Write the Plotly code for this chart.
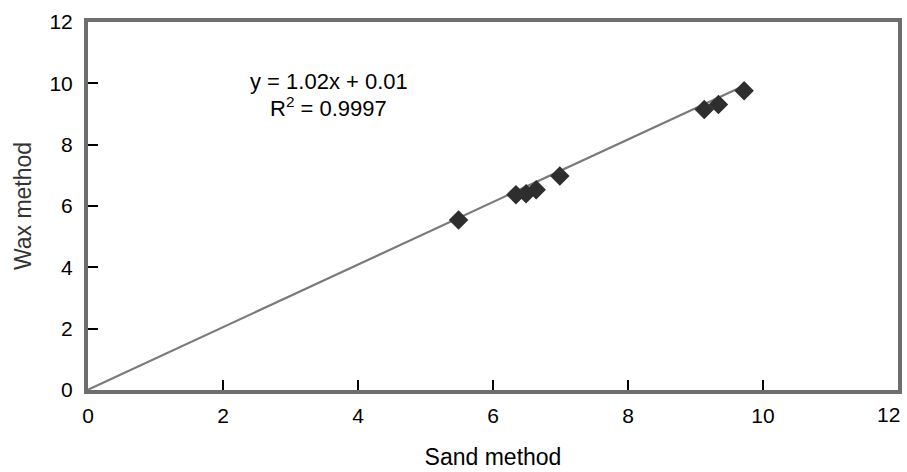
import plotly.graph_objects as go

sand = [5.49, 6.34, 6.49, 6.64, 6.99, 9.13, 9.34, 9.72]
wax = [5.54, 6.37, 6.40, 6.53, 6.98, 9.15, 9.31, 9.76]
slope, intercept = 1.02, 0.01
fit_x = [0, max(sand)]
fit_y = [slope * v + intercept for v in fit_x]
tick_vals = [0, 2, 4, 6, 8, 10, 12]
y_tick_text = ["0", "2", "4", "6", "8", "10", "12"]
x_tick_text = ["0", "2", "4", "6", "8", "10", ""]  # last label drawn below, kept inside page
x_last_label = "12"

font = "Liberation Sans, Arial, sans-serif"
fig = go.Figure()
fig.add_trace(go.Scatter(x=fit_x, y=fit_y, mode="lines",
                         line=dict(color="#7a7a7a", width=2.2), hoverinfo="skip"))
fig.add_trace(go.Scatter(x=sand, y=wax, mode="markers",
                         marker=dict(symbol="diamond", size=15, color="#2e2e2e")))

fig.add_annotation(x=(330 - 88) / (902 - 88) * 12, y=(397 - 83) / (397 - 22),
                   xref="x", yref="paper", showarrow=False,
                   xanchor="center", yanchor="middle",
                   text="y = 1.02x + 0.01", font=dict(family=font, size=22, color="black"))
fig.add_annotation(x=(330 - 88) / (902 - 88) * 12, y=(397 - 109) / (397 - 22),
                   xref="x", yref="paper", showarrow=False,
                   xanchor="center", yanchor="middle",
                   text="R<sup>2</sup> = 0.9997", font=dict(family=font, size=22, color="black"))
fig.add_annotation(x=1.0, y=(397 - 422) / (397 - 22), xref="paper", yref="paper",
                   xshift=3, showarrow=False, xanchor="right", yanchor="middle",
                   borderpad=0, text=x_last_label,
                   font=dict(family=font, size=21, color="black"))

axis_common = dict(range=[0, 12], tickvals=tick_vals,
                   showgrid=False, zeroline=False,
                   showline=True, linecolor="#6e6e6e", linewidth=4, mirror=True,
                   ticks="inside", ticklen=10, tickwidth=1.6, tickcolor="black",
                   tickfont=dict(family=font, size=21, color="black"))
fig.update_xaxes(**axis_common, ticktext=x_tick_text,
                 title=dict(text="Sand method", standoff=24,
                            font=dict(family=font, size=23, color="black")),
                 ticklabelstandoff=4)
fig.update_yaxes(**axis_common, ticktext=y_tick_text,
                 title=dict(text="Wax method", standoff=12,
                            font=dict(family=font, size=23, color="#333")),
                 ticklabelstandoff=7)

fig.update_layout(width=907, height=472, margin=dict(l=88, r=5, t=22, b=75),
                  plot_bgcolor="white", paper_bgcolor="white", showlegend=False)
fig.write_html("out.html", config={"displayModeBar": False})

# remove the browser's default page margin so the figure sits at the window's corner
with open("out.html", "r", encoding="utf-8") as f:
    html = f.read()
html = html.replace("<head>", "<head><style>html,body{margin:0;padding:0;}</style>", 1)
with open("out.html", "w", encoding="utf-8") as f:
    f.write(html)
